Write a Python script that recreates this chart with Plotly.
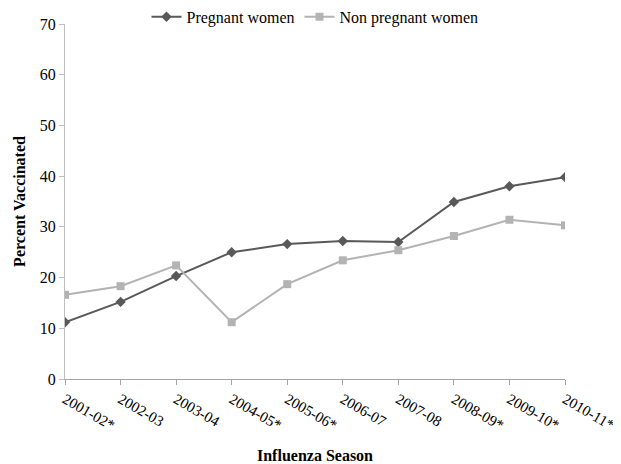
import plotly.graph_objects as go

seasons = ["2001-02*", "2002-03", "2003-04", "2004-05*", "2005-06*", "2006-07",
           "2007-08", "2008-09*", "2009-10*", "2010-11*"]
pregnant = [11.2, 15.2, 20.3, 25.0, 26.6, 27.2, 27.0, 34.9, 38.0, 39.8]
non_pregnant = [16.6, 18.3, 22.4, 11.2, 18.7, 23.4, 25.4, 28.2, 31.4, 30.3]
y_ticks = [0, 10, 20, 30, 40, 50, 60, 70]

x = list(range(len(seasons)))
font = "Liberation Serif"

fig = go.Figure()
fig.add_trace(go.Scatter(x=x, y=pregnant, name="Pregnant women", mode="lines+markers",
                         line=dict(color="#595959", width=2),
                         marker=dict(symbol="diamond", size=8, color="#595959")))
fig.add_trace(go.Scatter(x=x, y=non_pregnant, name="Non pregnant women", mode="lines+markers",
                         line=dict(color="#b3b3b3", width=2),
                         marker=dict(symbol="square", size=8, color="#b3b3b3")))

fig.update_layout(
    width=613, height=456,
    margin=dict(l=57, r=56, t=16, b=85, autoexpand=False),
    paper_bgcolor="white", plot_bgcolor="white",
    font=dict(family=font, size=16, color="black"),
    legend=dict(orientation="h", x=0.5, xanchor="center", y=1.068, yanchor="top",
                font=dict(family=font, size=16, color="black"), itemwidth=30,
                tracegroupgap=0),
    xaxis=dict(range=[0, 9], tickvals=x, ticktext=seasons, tickangle=30,
               showgrid=False, showline=True, linecolor="#a6a6a6", linewidth=1,
               ticks="outside", ticklen=5, tickcolor="#a6a6a6",
               ticklabeloverflow="allow",
               tickfont=dict(family=font, size=15, color="black"), zeroline=False,
               title=dict(text="<b>Influenza Season</b>",
                          font=dict(family=font, size=16, color="black"), standoff=24)),
    yaxis=dict(range=[0, 70], tickvals=y_ticks, showgrid=False, showline=True,
               linecolor="#bfbfbf", linewidth=1, ticks="outside", ticklen=5,
               tickcolor="#bfbfbf", zeroline=False,
               tickfont=dict(family=font, size=16, color="black"),
               title=dict(text="<b>Percent Vaccinated</b>",
                          font=dict(family=font, size=16, color="black"), standoff=10)),
)

fig.write_html("out.html")
